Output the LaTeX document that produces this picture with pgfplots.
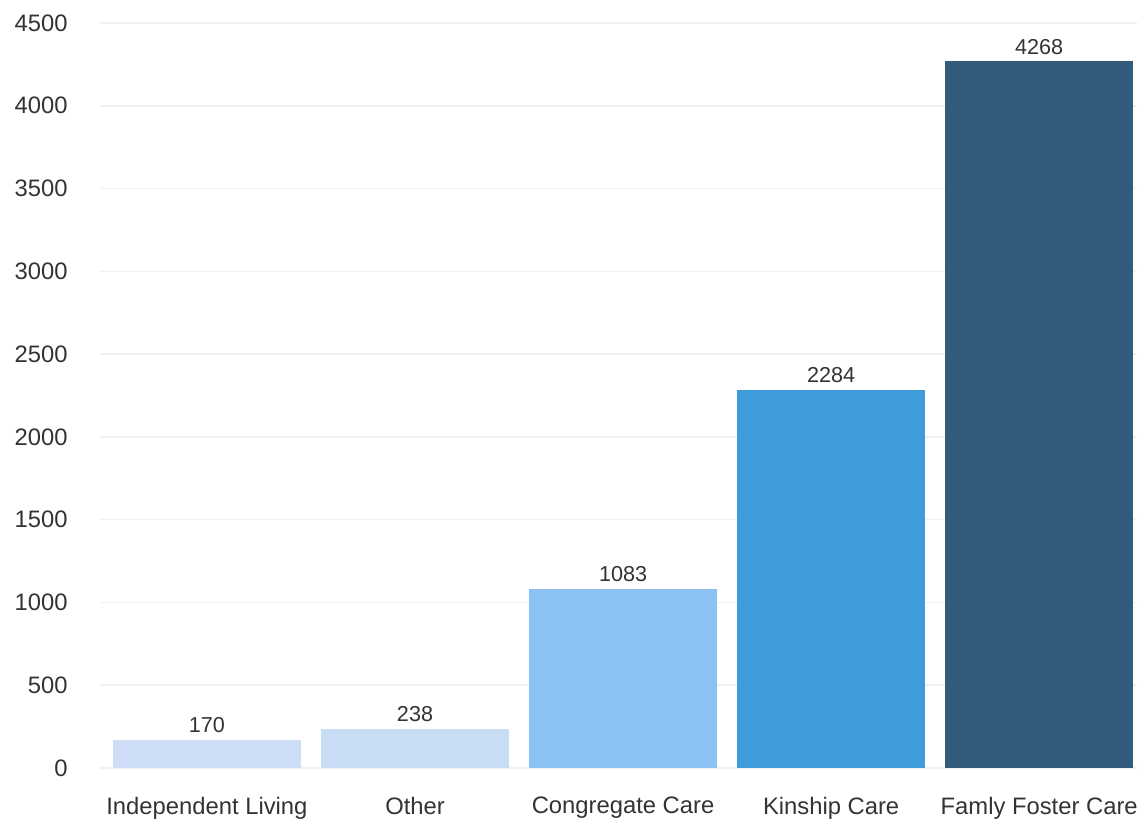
\documentclass[border=0pt]{standalone}
\usepackage{pgfplots}
\pgfplotsset{compat=1.18}
\usepackage{fontspec}
\setmainfont{Liberation Sans}
\definecolor{cA}{HTML}{CDDDF5}
\definecolor{cB}{HTML}{C8DCF4}
\definecolor{cC}{HTML}{8CC1F3}
\definecolor{cD}{HTML}{3F9CDB}
\definecolor{cE}{HTML}{335B7B}
\definecolor{txt}{HTML}{333333}
\definecolor{grd}{HTML}{F0F0F0}
\begin{document}
\begin{tikzpicture}
\begin{axis}[
  name=ax,
  scale only axis,
  width=518.5pt, height=372.5pt,
  xmin=-0.514, xmax=4.47,
  ymin=0, ymax=4500,
  ytick={0,500,...,4500},
  xtick={0,1,2,3,4},
  xticklabels={Independent Living, Other, Congregate Care, Kinship Care, Famly Foster Care},
  axis line style={draw=none},
  major tick length=0pt,
  ymajorgrids, grid style={grd, line width=0.8pt},
  /pgf/number format/assume math mode=true,
  /pgf/number format/set thousands separator={},
  tick label style={font=\fontsize{11.9pt}{13pt}\selectfont, text=txt},
  yticklabel style={anchor=east, xshift=-12.7pt},
  xticklabel style={anchor=north, yshift=-11pt},
  ybar, bar shift=0pt, bar width=0.906,
  every axis plot/.append style={draw=none},
  nodes near coords,
  nodes near coords style={font=\fontsize{10.8pt}{12pt}\selectfont, text=txt, /pgf/number format/assume math mode=true, /pgf/number format/set thousands separator={}},
  clip=false,
]
\addplot[fill=cA] coordinates {(0,170)};
\addplot[fill=cB] coordinates {(1,238)};
\addplot[fill=cC] coordinates {(2,1083)};
\addplot[fill=cD] coordinates {(3,2284)};
\addplot[fill=cE] coordinates {(4,4268)};
\end{axis}
\pgfresetboundingbox
\path[use as bounding box] ([xshift=-50pt,yshift=-26pt]ax.south west) rectangle ([yshift=11.5pt]ax.north east);
\end{tikzpicture}
\end{document}
